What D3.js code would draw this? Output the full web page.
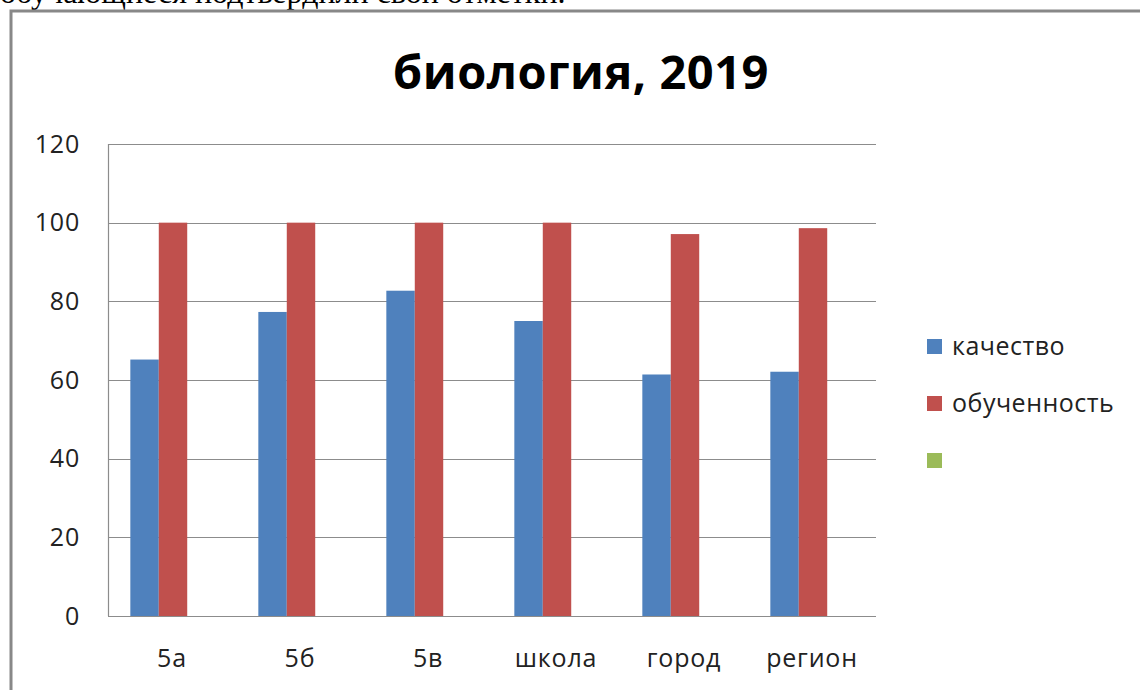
<!DOCTYPE html>
<html>
<head>
<meta charset="utf-8">
<script src="https://cdn.jsdelivr.net/npm/d3@7"></script>
<style>
  body { margin: 0; background: #fff; }
  svg { display: block; }
</style>
</head>
<body>
<div id="chartContainer"></div>
<script>
// data
var categories = ["5а", "5б", "5в", "школа", "город", "регион"];
var seriesNames = ["качество", "обученность", ""];
var kachestvo = [65.2, 77.3, 82.7, 75.0, 61.4, 62.1];
var obuchennost = [100, 100, 100, 100, 97.1, 98.6];
var empty = [null, null, null, null, null, null];
var yTicks = [0, 20, 40, 60, 80, 100, 120];
var strokes = ["#4f81bd", "#c0504d", "#9bbb59"];

var width = 1140, height = 690;
var margin = { top: 144, right: 264, bottom: 74, left: 108 };
var font = "'Open Sans', 'Noto Sans', sans-serif";

var svg = d3.select("#chartContainer")
    .append("svg")
    .attr("width", width)
    .attr("height", height);

// cut-off paragraph text above the chart frame
svg.append("text")
    .attr("x", 0)
    .attr("y", 3)
    .style("font-family", "'Liberation Serif', 'Times New Roman', serif")
    .style("font-size", "32px")
    .style("fill", "#000")
    .text("обучающиеся подтвердили свои отметки.");

// chart frame
svg.append("rect")
    .attr("x", 11)
    .attr("y", 11)
    .attr("width", 1150)
    .attr("height", 700)
    .style("fill", "#fff")
    .style("stroke", "#888")
    .style("stroke-width", 3);

var plotW = width - margin.left - margin.right;
var plotH = height - margin.top - margin.bottom;

var x = d3.scaleBand().domain(categories).range([0, plotW]);
var x1 = d3.scaleBand().domain([0, 1, 2]).range([0, x.bandwidth()]).paddingOuter(0.75);
var y = d3.scaleLinear().domain([0, 120]).range([plotH, 0]);

var g = svg.append("g")
    .attr("transform", "translate(" + margin.left + "," + margin.top + ")");

// gridlines
g.selectAll(".grid")
    .data(yTicks.filter(function (d) { return d > 0; }))
    .enter().append("line")
    .attr("x1", 0)
    .attr("x2", plotW)
    .attr("y1", function (d) { return Math.round(y(d)) + 0.5; })
    .attr("y2", function (d) { return Math.round(y(d)) + 0.5; })
    .style("stroke", "#8c8c8c")
    .style("stroke-width", 1.2);

// y axis line
g.append("line")
    .attr("x1", 0.5).attr("x2", 0.5)
    .attr("y1", 0).attr("y2", plotH)
    .style("stroke", "#8c8c8c")
    .style("stroke-width", 1.2);

// y labels
g.selectAll(".ylab")
    .data(yTicks)
    .enter().append("text")
    .attr("x", -28)
    .attr("y", function (d) { return y(d); })
    .attr("dy", "0.35em")
    .attr("text-anchor", "end")
    .style("font-family", font)
    .style("font-size", "25px")
    .style("letter-spacing", "0.8px")
    .style("fill", "#222")
    .text(function (d) { return d; });

// bars
var series = [kachestvo, obuchennost, empty];
series.forEach(function (vals, i) {
    g.selectAll(".bar" + i)
        .data(vals.map(function (v, j) { return { c: categories[j], v: v }; })
            .filter(function (d) { return d.v !== null; }))
        .enter().append("rect")
        .attr("x", function (d) { return x(d.c) + x1(i) + 1; })
        .attr("width", x1.bandwidth())
        .attr("y", function (d) { return y(d.v); })
        .attr("height", function (d) { return plotH - y(d.v); })
        .style("fill", strokes[i]);
});

// x axis line
g.append("line")
    .attr("x1", 0).attr("x2", plotW)
    .attr("y1", plotH + 0.5).attr("y2", plotH + 0.5)
    .style("stroke", "#8c8c8c")
    .style("stroke-width", 1.2);

// x labels
g.selectAll(".xlab")
    .data(categories)
    .enter().append("text")
    .attr("x", function (d) { return x(d) + x.bandwidth() / 2; })
    .attr("y", plotH + 51)
    .attr("text-anchor", "middle")
    .style("font-family", font)
    .style("font-size", "25px")
    .style("letter-spacing", "0.8px")
    .style("fill", "#222")
    .text(function (d) { return d; });

// title
svg.append("text")
    .attr("x", 581)
    .attr("y", 89)
    .attr("text-anchor", "middle")
    .style("font-family", font)
    .style("font-weight", "bold")
    .style("font-size", "47px")
    .style("letter-spacing", "0.5px")
    .style("fill", "#000")
    .text("биология, 2019");

// legend
var legend = svg.append("g")
    .attr("transform", "translate(927,339)");
var legItem = legend.selectAll(".leg")
    .data(seriesNames)
    .enter().append("g")
    .attr("transform", function (d, i) { return "translate(0," + (i * 57) + ")"; });
legItem.append("rect")
    .attr("width", 15)
    .attr("height", 15)
    .style("fill", function (d, i) { return strokes[i]; });
legItem.append("text")
    .attr("x", 25)
    .attr("y", 7)
    .attr("dy", "0.35em")
    .style("font-family", font)
    .style("font-size", "25px")
    .style("letter-spacing", "0.5px")
    .style("fill", "#222")
    .text(function (d) { return d; });
</script>
</body>
</html>
